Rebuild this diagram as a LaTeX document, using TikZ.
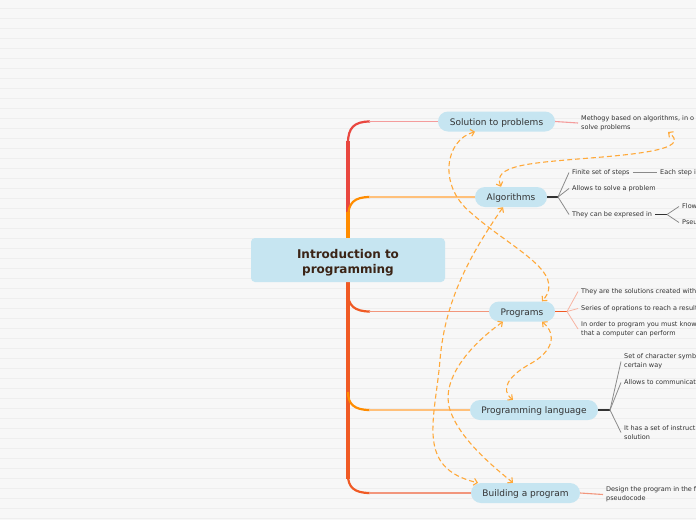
\documentclass[tikz,border=0pt]{standalone}
\usepackage{fontspec}
\setmainfont{DejaVu Sans}
\usetikzlibrary{arrows.meta}
\definecolor{bg}{HTML}{F7F7F7}
\definecolor{gridc}{HTML}{EEEEEE}
\definecolor{nodeblue}{HTML}{C6E5F1}
\definecolor{txt}{HTML}{333333}
\definecolor{roottxt}{HTML}{3B2416}
\definecolor{relcol}{HTML}{FFA93A}
\definecolor{cred}{HTML}{E9473F}
\definecolor{corange}{HTML}{FF8C00}
\definecolor{corangered}{HTML}{F05A24}
\definecolor{cpink}{HTML}{F49C9C}
\definecolor{clorange}{HTML}{FFC07A}
\definecolor{csalmon}{HTML}{F2967C}
\definecolor{csalmonl}{HTML}{F7B4A2}
\definecolor{cdark}{HTML}{333333}
\definecolor{cgrey}{HTML}{8A8A8A}
\begin{document}
\begin{tikzpicture}[x=1pt,y=-1pt,
  topic/.style={rounded corners=10pt, fill=nodeblue, minimum height=20pt, inner sep=0pt,
    text height=9.7pt, text depth=2pt,
    font=\fontsize{9}{11}\selectfont, text=txt},
  rootbox/.style={rounded corners=4pt, fill=nodeblue, minimum width=194pt, minimum height=44pt,
    inner sep=0pt, align=center, font=\fontsize{12}{15}\selectfont\bfseries, text=roottxt},
  leaf/.style={anchor=west, inner xsep=3pt, inner ysep=0pt, align=left,
    font=\fontsize{6.5}{8.7}\selectfont, text=txt},
  rel/.style={draw=relcol, line width=1.1pt, dash pattern=on 5pt off 3pt,
    {Straight Barb[length=3.5pt,width=7pt]}-{Straight Barb[length=3.5pt,width=7pt]}},
  gridline/.style={draw=gridc, line width=1pt},
  trunkline/.style={line width=4pt},
  bendline/.style={line width=2.2pt},
  twigline/.style={line width=1.1pt}
]
\useasboundingbox (0,0) rectangle (696,520);
\fill[bg] (0,0) rectangle (696,520);
\foreach \k in {0,...,51} \draw[gridline] (0,8.5+10*\k) -- (696,8.5+10*\k);

% nodes
\node[topic, minimum width=117pt] (sol) at (496.5,121.5) {Solution to problems};
\node[topic, minimum width=72pt] (alg) at (511,197) {Algorithms};
\node[topic, minimum width=66pt] (prg) at (522,311.5) {Programs};
\node[topic, minimum width=128pt] (lang) at (534,410) {Programming language};
\node[topic, minimum width=109pt] (bld) at (525.5,493) {Building a program};

% trunk
\draw[cred, trunkline] (348,141) -- (348,213);
\draw[corange, trunkline] (348,212) -- (348,239);
\draw[corangered, trunkline] (348,281) -- (348,479);
\draw[cred, bendline] (348,143) .. controls (348,128) and (354,121.5) .. (370,121.5);
\draw[corange, bendline] (348,218) .. controls (348,203) and (354,197) .. (370,197);
\draw[corangered, bendline] (348,293) .. controls (348,305) and (354,311.5) .. (370,311.5);
\draw[corange, bendline] (348,392) .. controls (348,404) and (354,410) .. (370,410);
\draw[corangered, bendline] (348,475) .. controls (348,487) and (354,493) .. (370,493);
\coordinate (jsol) at (369,121.5);
\coordinate (jalg) at (369,197);
\coordinate (jprg) at (369,311.5);
\coordinate (jlang) at (369,410);
\coordinate (jbld) at (369,493);
\draw[cpink, twigline] (jsol) -- (sol.west);
\draw[clorange, twigline] (jalg) -- (alg.west);
\draw[csalmon, twigline] (jprg) -- (prg.west);
\draw[clorange, twigline] (jlang) -- (lang.west);
\draw[csalmon, twigline] (jbld) -- (bld.west);
\node[rootbox] (root) at (348,260) {\rule{0pt}{15pt}Introduction to\\programming};

% leaves
\node[leaf] (m1) at (578,123) {Methogy based on algorithms, in o\\solve problems};
\node[leaf] (a1) at (569,172.5) {Finite set of steps};
\node[leaf] (a1b) at (657,172.5) {Each step i};
\node[leaf] (a2) at (569,188.5) {Allows to solve a problem};
\node[leaf] (a3) at (569,214.5) {They can be expresed in};
\node[leaf] (a3a) at (679,206.5) {Flow};
\node[leaf] (a3b) at (679,222.5) {Pseu};
\node[leaf] (p1) at (578,291.5) {They are the solutions created with};
\node[leaf] (p2) at (578,308.5) {Series of oprations to reach a result};
\node[leaf] (p3) at (578,329) {In order to program you must know\\that a computer can perform};
\node[leaf] (l1) at (621,361.5) {Set of character symb\\certain way};
\node[leaf] (l2) at (621,382.5) {Allows to communicat};
\node[leaf] (l3) at (621,432.5) {It has a set of instruct\\solution};
\node[leaf] (b1) at (603,494.5) {Design the program in the f\\pseudocode};

% sub connectors
\draw[cpink, twigline] (sol.east) -- (m1.west);
\coordinate (falg) at (558,197);
\draw[cdark, twigline] (alg.east) -- (falg);
\draw[cgrey, line width=0.8pt] (falg) -- (a1.west);
\draw[cgrey, line width=0.8pt] (falg) -- (a2.west);
\draw[cgrey, line width=0.8pt] (falg) -- (a3.west);
\draw[cgrey, line width=0.8pt] (a1.east) -- (a1b.west);
\coordinate (fa3) at (667,214.5);
\draw[cdark, twigline] (a3.east) -- (fa3);
\draw[cgrey, line width=0.8pt] (fa3) -- (a3a.west);
\draw[cgrey, line width=0.8pt] (fa3) -- (a3b.west);
\coordinate (fprg) at (567,311.5);
\draw[corangered, twigline] (prg.east) -- (fprg);
\draw[csalmonl, line width=0.8pt] (fprg) -- (p1.west);
\draw[csalmonl, line width=0.8pt] (fprg) -- (p2.west);
\draw[csalmonl, line width=0.8pt] (fprg) -- (p3.west);
\coordinate (flang) at (610,410);
\draw[cdark, twigline] (lang.east) -- (flang);
\draw[cgrey, line width=0.8pt] (flang) -- (l1.west);
\draw[cgrey, line width=0.8pt] (flang) -- (l2.west);
\draw[cgrey, line width=0.8pt] (flang) -- (l3.west);
\draw[csalmon, twigline] (bld.east) -- (b1.west);

% relationships
\coordinate (mtip) at (668,132);
\draw[rel] ([xshift=-10pt]alg.north) .. controls (492,165) and (530,163) .. (590,158)
  .. controls (655,153) and (688,147) .. (mtip);
\draw[rel] ([xshift=-21.5pt]sol.south) .. controls (445,140) and (438,185) .. (470,212)
  .. controls (510,248) and (568,272) .. ([xshift=20pt]prg.north);
\draw[rel] ([xshift=-8pt]alg.south) .. controls (470,255) and (445,300) .. (440,360)
  .. controls (435,420) and (415,468) .. ([xshift=-47.5pt]bld.north);
\draw[rel] ([xshift=-19pt]prg.south) .. controls (470,345) and (440,380) .. (450,410)
  .. controls (460,440) and (495,468) .. ([xshift=-12.5pt]bld.north);
\draw[rel] ([xshift=20pt]prg.south) .. controls (558,335) and (552,352) .. (530,364)
  .. controls (508,376) and (500,390) .. ([xshift=-21pt]lang.north);
\end{tikzpicture}
\end{document}
